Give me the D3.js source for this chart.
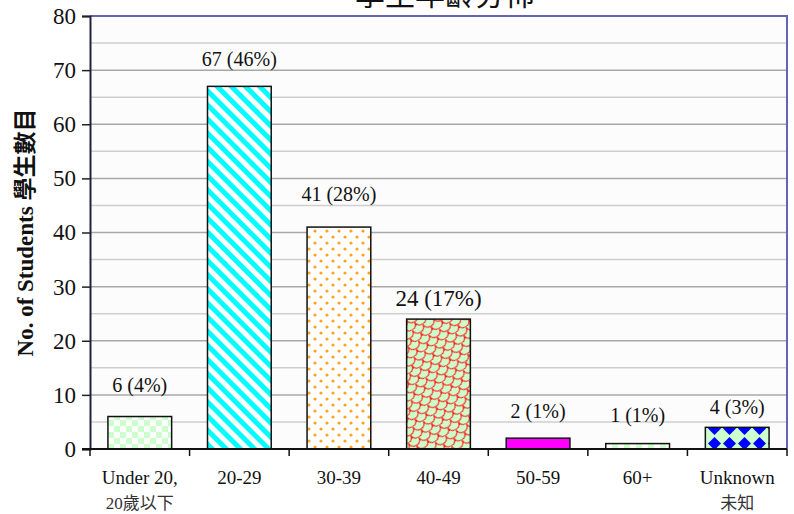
<!DOCTYPE html>
<html>
<head>
<meta charset="utf-8">
<script src="https://cdn.jsdelivr.net/npm/d3@7"></script>
<style>
  body { margin: 0; background: #fff; }
  svg { display: block; }
</style>
</head>
<body>
<div id="chart"></div>
<script>
// age groups, two-line labels (english / chinese)
var categories = ["Under 20,|20歲以下", "20-29", "30-39", "40-49", "50-59", "60+", "Unknown|未知"];
var students = [6, 67, 41, 24, 2, 1, 4];
var percents = ["4%", "46%", "28%", "17%", "1%", "1%", "3%"];
var yTicks = [0, 10, 20, 30, 40, 50, 60, 70, 80];

// fill per bar, label lift above bar top (the original labels were nudged by hand)
var fills = ["url(#checkGreen)", "url(#stripeCyan)", "url(#dotOrange)", "url(#scaleRed)", "#ff00ff", "url(#checkGreen)", "url(#diamondBlue)"];
var labelLift = [25, 20, 26, 13, 20, 22, 13];

var w = 794, h = 514;
var margin = {top: 16, right: 7, bottom: 65, left: 90};
var serif = "'Liberation Serif', 'Noto Sans CJK TC', serif";

var svg = d3.select("#chart").append("svg").attr("width", w).attr("height", h);

// ---- patterns ----
var defs = svg.append("defs");

var p = defs.append("pattern").attr("id", "checkGreen").attr("patternUnits", "userSpaceOnUse")
  .attr("width", 12).attr("height", 12);
p.append("rect").attr("width", 12).attr("height", 12).attr("fill", "#fff");
p.append("rect").attr("width", 6).attr("height", 6).attr("fill", "#ccffcc");
p.append("rect").attr("x", 6).attr("y", 6).attr("width", 6).attr("height", 6).attr("fill", "#ccffcc");

p = defs.append("pattern").attr("id", "stripeCyan").attr("patternUnits", "userSpaceOnUse")
  .attr("width", 10).attr("height", 10).attr("patternTransform", "rotate(-45)");
p.append("rect").attr("width", 10).attr("height", 10).attr("fill", "#fff");
p.append("rect").attr("width", 5).attr("height", 10).attr("fill", "#00ffff");

p = defs.append("pattern").attr("id", "dotOrange").attr("patternUnits", "userSpaceOnUse")
  .attr("width", 12).attr("height", 12);
p.append("rect").attr("width", 12).attr("height", 12).attr("fill", "#fff");
p.append("circle").attr("cx", 3).attr("cy", 3).attr("r", 1.6).attr("fill", "#ffa31a");
p.append("circle").attr("cx", 9).attr("cy", 9).attr("r", 1.6).attr("fill", "#ffa31a");

p = defs.append("pattern").attr("id", "scaleRed").attr("patternUnits", "userSpaceOnUse")
  .attr("width", 12).attr("height", 12).attr("patternTransform", "rotate(-30)");
p.append("rect").attr("width", 12).attr("height", 12).attr("fill", "#ccffcc");
p.append("path")
  .attr("d", "M0,0 C0,4 3,6 6,6 C9,6 12,4 12,0 M6,6 C6,10 9,12 12,12 M6,6 C6,10 3,12 0,12")
  .attr("fill", "none").attr("stroke", "#ff2222").attr("stroke-width", 1.2);

p = defs.append("pattern").attr("id", "diamondBlue").attr("patternUnits", "userSpaceOnUse")
  .attr("width", 15).attr("height", 15).attr("x", 2).attr("y", 1);
p.append("rect").attr("width", 15).attr("height", 15).attr("fill", "#ccffcc");
p.append("path").attr("d", "M7.5,1 L14,7.5 L7.5,14 L1,7.5 Z").attr("fill", "#0000ff");

// ---- scales ----
var x = d3.scaleBand().domain(categories).range([margin.left, w - margin.right]).paddingInner(0.36).paddingOuter(0.18);
var y = d3.scaleLinear().domain([0, 80]).range([h - margin.bottom, margin.top]);

// plot background
svg.append("rect")
  .attr("x", margin.left).attr("y", margin.top)
  .attr("width", w - margin.right - margin.left).attr("height", y(0) - margin.top)
  .attr("fill", "#fcfcfc");

// minor grid (every 5) then major grid (every 10)
svg.append("g").selectAll("line").data(d3.range(5, 80, 10)).enter().append("line")
  .attr("x1", margin.left).attr("x2", w - margin.right)
  .attr("y1", function(d) { return y(d); }).attr("y2", function(d) { return y(d); })
  .attr("stroke", "#cfcfcf").attr("stroke-width", 1.5);
svg.append("g").selectAll("line").data(yTicks.slice(1, -1)).enter().append("line")
  .attr("x1", margin.left).attr("x2", w - margin.right)
  .attr("y1", function(d) { return y(d); }).attr("y2", function(d) { return y(d); })
  .attr("stroke", "#a8a8a8").attr("stroke-width", 1.5);

// top / right border of plot
svg.append("path")
  .attr("d", "M" + margin.left + "," + y(80) + "H" + (w - margin.right) + "V" + y(0))
  .attr("fill", "none").attr("stroke", "#6464b4").attr("stroke-width", 2);

// bars
svg.append("g").selectAll("rect").data(students).enter().append("rect")
  .attr("x", function(d, i) { return x(categories[i]); })
  .attr("y", function(d) { return y(d); })
  .attr("width", x.bandwidth())
  .attr("height", function(d) { return y(0) - y(d); })
  .attr("fill", function(d, i) { return fills[i]; })
  .attr("stroke", "#111").attr("stroke-width", 1.5);

// value labels
svg.append("g").selectAll("text").data(students).enter().append("text")
  .attr("x", function(d, i) { return x(categories[i]) + x.bandwidth() / 2; })
  .attr("y", function(d, i) { return y(d) - labelLift[i]; })
  .attr("text-anchor", "middle")
  .attr("font-family", serif)
  .attr("font-size", function(d, i) { return i == 3 ? "23px" : "20px"; })
  .attr("fill", "#111")
  .text(function(d, i) { return d + " (" + percents[i] + ")"; });

// y axis
var yAxis = svg.append("g").attr("transform", "translate(" + margin.left + ",0)")
  .call(d3.axisLeft(y).tickValues(yTicks).tickSize(8).tickPadding(6));
yAxis.select(".domain").attr("stroke", "#22223a").attr("stroke-width", 2);
yAxis.selectAll(".tick line").attr("stroke", "#222").attr("stroke-width", 1.5);
yAxis.selectAll("text").attr("font-family", serif).attr("font-size", "23px").attr("fill", "#111");

// x axis: ticks sit on the band boundaries
var xAxisG = svg.append("g");
xAxisG.append("line")
  .attr("x1", margin.left - 8).attr("x2", w - margin.right)
  .attr("y1", y(0)).attr("y2", y(0))
  .attr("stroke", "#111").attr("stroke-width", 2);
var step = x.step();
xAxisG.selectAll("line.tk").data(d3.range(categories.length + 1)).enter().append("line")
  .attr("class", "tk")
  .attr("x1", function(i) { return margin.left + i * step; })
  .attr("x2", function(i) { return margin.left + i * step; })
  .attr("y1", y(0)).attr("y2", y(0) + 7)
  .attr("stroke", "#111").attr("stroke-width", 1.5);

var xl = xAxisG.selectAll("text").data(categories).enter().append("text")
  .attr("text-anchor", "middle")
  .attr("font-family", serif)
  .attr("font-size", "19px")
  .attr("fill", "#111");
xl.each(function(d) {
  var parts = d.split("|");
  var t = d3.select(this);
  var cx = x(d) + x.bandwidth() / 2;
  parts.forEach(function(s, k) {
    t.append("tspan").attr("x", cx).attr("y", y(0) + 35 + k * 25)
      .attr("fill", k == 1 ? "#333" : "#111")
      .attr("font-size", k == 1 ? "17px" : null)
      .text(s);
  });
});

// y axis title
svg.append("text")
  .attr("transform", "translate(33," + (margin.top + (y(0) - margin.top) / 2) + ") rotate(-90)")
  .attr("text-anchor", "middle")
  .attr("font-family", serif)
  .attr("font-weight", "bold")
  .attr("font-size", "23px")
  .attr("fill", "#111")
  .text("No. of Students 學生數目");

// chart title, mostly cut off at the top of the picture
svg.append("text")
  .attr("x", 445).attr("y", 5)
  .attr("text-anchor", "middle")
  .attr("font-family", "'Noto Sans CJK TC', sans-serif")
  .attr("font-size", "30px")
  .attr("fill", "#111")
  .text("學生年齡分佈");
</script>
</body>
</html>
